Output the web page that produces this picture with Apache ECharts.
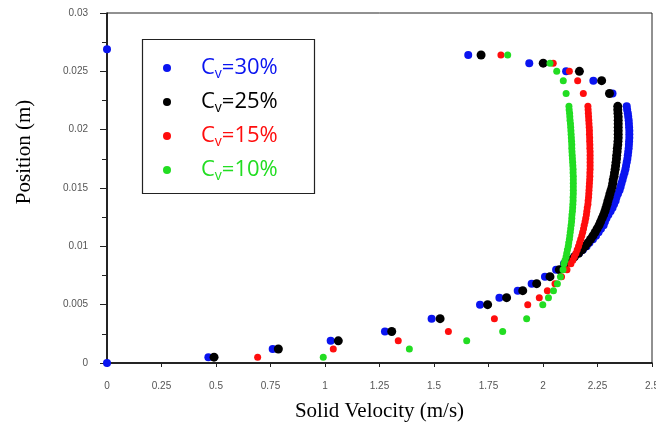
<!DOCTYPE html>
<html>
<head>
<meta charset="utf-8">
<script src="https://cdn.jsdelivr.net/npm/echarts@6/dist/echarts.min.js"></script>
<style>
  html, body { margin: 0; padding: 0; background: #fff; }
  #chart { width: 656px; height: 428px; }
</style>
</head>
<body>
<div id="chart"></div>
<script>
// Cell-centre heights across the channel (m): coarse near the wall, fine in the core
const positionsLower = [0.0005, 0.0012, 0.0019, 0.0027, 0.0038, 0.0050, 0.0056, 0.0062, 0.0068, 0.0074, 0.0080];
const positionsCore = [0.0085, 0.0088, 0.0091, 0.0094, 0.0097, 0.0100, 0.0103, 0.0106, 0.0109, 0.0112,
  0.0115, 0.0118, 0.0121, 0.0124, 0.0127, 0.0130, 0.0133, 0.0136, 0.0139, 0.0142,
  0.0145, 0.0148, 0.0151, 0.0154, 0.0157, 0.0160, 0.0163, 0.0166, 0.0169, 0.0172,
  0.0175, 0.0178, 0.0181, 0.0184, 0.0187, 0.0190, 0.0193, 0.0196, 0.0199, 0.0202,
  0.0205, 0.0208, 0.0211, 0.0214, 0.0217, 0.0220];
const positionsUpper = [0.0231, 0.0242, 0.0250, 0.0257, 0.0264];

// Solid velocity (m/s) at those heights, one list per volume fraction
const velocityCv30 = [0.465, 0.760, 1.026, 1.275, 1.489, 1.711, 1.800, 1.884, 1.948, 2.009, 2.060,
  2.096, 2.122, 2.144, 2.165, 2.183, 2.200, 2.213, 2.229, 2.243, 2.255,
  2.266, 2.278, 2.284, 2.291, 2.300, 2.310, 2.319, 2.326, 2.333, 2.337,
  2.344, 2.351, 2.356, 2.360, 2.365, 2.369, 2.374, 2.378, 2.381, 2.384,
  2.387, 2.389, 2.391, 2.393, 2.394, 2.395, 2.396, 2.396, 2.396, 2.395,
  2.394, 2.393, 2.391, 2.389, 2.386, 2.384,
  2.319, 2.231, 2.106, 1.937, 1.657];
const velocityCv25 = [0.491, 0.786, 1.061, 1.306, 1.528, 1.746, 1.833, 1.907, 1.971, 2.032, 2.075,
  2.101, 2.124, 2.144, 2.163, 2.179, 2.193, 2.206, 2.218, 2.229, 2.239,
  2.248, 2.257, 2.264, 2.271, 2.278, 2.284, 2.289, 2.294, 2.298, 2.303,
  2.307, 2.312, 2.317, 2.320, 2.322, 2.326, 2.328, 2.331, 2.333, 2.335,
  2.337, 2.338, 2.340, 2.341, 2.343, 2.344, 2.345, 2.345, 2.345, 2.345,
  2.345, 2.345, 2.345, 2.344, 2.343, 2.343,
  2.305, 2.269, 2.167, 2.001, 1.716];
const velocityCv15 = [0.691, 1.038, 1.336, 1.566, 1.777, 1.930, 1.983, 2.020, 2.055, 2.085, 2.110,
  2.128, 2.137, 2.144, 2.151, 2.157, 2.163, 2.168, 2.173, 2.178, 2.182,
  2.186, 2.189, 2.193, 2.196, 2.199, 2.201, 2.203, 2.206, 2.207, 2.209,
  2.210, 2.211, 2.212, 2.213, 2.214, 2.215, 2.215, 2.216, 2.216, 2.216,
  2.216, 2.216, 2.216, 2.215, 2.215, 2.214, 2.214, 2.213, 2.213, 2.212,
  2.211, 2.210, 2.209, 2.208, 2.207, 2.206,
  2.185, 2.159, 2.121, 2.047, 1.807];
const velocityCv10 = [0.992, 1.387, 1.650, 1.815, 1.925, 1.999, 2.025, 2.048, 2.066, 2.080, 2.092,
  2.096, 2.101, 2.106, 2.109, 2.112, 2.116, 2.118, 2.121, 2.123, 2.125,
  2.127, 2.129, 2.131, 2.132, 2.133, 2.135, 2.136, 2.137, 2.138, 2.138,
  2.139, 2.139, 2.139, 2.139, 2.139, 2.139, 2.138, 2.138, 2.137, 2.136,
  2.135, 2.134, 2.133, 2.132, 2.132, 2.131, 2.130, 2.129, 2.128, 2.127,
  2.126, 2.124, 2.123, 2.122, 2.120, 2.119,
  2.106, 2.093, 2.063, 2.032, 1.838];

// Wall points of the 30% case (velocity, position)
const wallVelocityCv30 = [0, 0];
const wallPositionCv30 = [0, 0.0269];

const seriesNames = ['Cv=30%', 'Cv=25%', 'Cv=15%', 'Cv=10%'];
const legendValues = ['30%', '25%', '15%', '10%'];
const xTicks = [0, 0.25, 0.5, 0.75, 1, 1.25, 1.5, 1.75, 2, 2.25, 2.5];
const yTicks = [0, 0.005, 0.01, 0.015, 0.02, 0.025, 0.03];

const colors = ['#0a14f0', '#000000', '#ff0d0d', '#22dd22'];
const symbolSizes = [8, 9, 7, 7];

const positions = positionsLower.concat(positionsCore, positionsUpper);
function pairs(xs, ys) { return xs.map((x, i) => [x, ys[i]]); }

const seriesData = [
  pairs(wallVelocityCv30, wallPositionCv30).concat(pairs(velocityCv30, positions)),
  pairs(velocityCv25, positions),
  pairs(velocityCv15, positions),
  pairs(velocityCv10, positions)
];

// Legend text styles: gap spacer, main glyphs and the subscript "v"
const rich = { g: { width: 25, fontSize: 22, lineHeight: 34 } };
colors.forEach((c, i) => {
  rich['m' + i] = { color: c, fontSize: 22, fontFamily: 'Open Sans', lineHeight: 34 };
  rich['s' + i] = { color: c, fontSize: 14, fontFamily: 'Open Sans', lineHeight: 34, padding: [12, 0, 0, 0] };
});

const chart = echarts.init(document.getElementById('chart'), null, { renderer: 'canvas' });
chart.setOption({
  animation: false,
  backgroundColor: '#ffffff',
  grid: {
    left: 107, right: 4, top: 13, bottom: 65,
    show: true, borderColor: '#222', borderWidth: 1,
    containLabel: false, outerBoundsMode: 'none'
  },
  xAxis: {
    type: 'value', min: 0, max: 2.5, interval: 0.25,
    name: 'Solid Velocity (m/s)', nameLocation: 'middle', nameGap: 38,
    nameTextStyle: { fontFamily: 'Liberation Serif', fontSize: 21, color: '#000' },
    axisLine: { onZero: false, lineStyle: { color: '#000', width: 1.5 } },
    axisTick: { show: true, inside: false, length: 4, lineStyle: { color: '#222' } },
    axisLabel: {
      margin: 18, fontFamily: 'Liberation Sans', fontSize: 10, color: '#555',
      formatter: v => { const t = xTicks.find(k => Math.abs(k - v) < 1e-9); return t === undefined ? '' : String(t); }
    },
    splitLine: { show: false }
  },
  yAxis: {
    type: 'value', min: 0, max: 0.03, interval: 0.005,
    axisLine: { onZero: false, lineStyle: { color: '#000', width: 1.5 } },
    axisTick: { show: true, inside: false, length: 7, lineStyle: { color: '#222' } },
    minorTick: { show: true, splitNumber: 2, length: 5, lineStyle: { color: '#222' } },
    axisLabel: {
      margin: 19, fontFamily: 'Liberation Sans', fontSize: 10, color: '#555',
      formatter: v => { const t = yTicks.find(k => Math.abs(k - v) < 1e-9); return t === undefined ? '' : String(t); }
    },
    splitLine: { show: false },
    minorSplitLine: { show: false }
  },
  legend: {
    orient: 'vertical',
    left: 163, top: 55,
    padding: 0, itemGap: 8,
    itemWidth: 8, itemHeight: 8,
    icon: 'circle',
    data: seriesNames,
    formatter: name => {
      const i = seriesNames.indexOf(name);
      return '{g|}{m' + i + '|C}{s' + i + '|v}{m' + i + '|=' + legendValues[i] + '}';
    },
    textStyle: { rich: rich },
    selectedMode: false
  },
  graphic: [
    {
      type: 'rect', z: 10,
      shape: { x: 142.5, y: 39.5, width: 172, height: 154 },
      style: { fill: null, stroke: '#222', lineWidth: 1.2 }
    },
    {
      type: 'text', z: 10,
      x: 24, y: 152, rotation: Math.PI / 2,
      style: {
        text: 'Position (m)', font: '21px "Liberation Serif"', fill: '#000',
        textAlign: 'center', textVerticalAlign: 'middle'
      }
    }
  ],
  series: seriesNames.map((name, i) => ({
    name: name,
    type: 'scatter',
    data: seriesData[i],
    symbol: 'circle',
    symbolSize: symbolSizes[i],
    clip: false,
    itemStyle: { color: colors[i], opacity: 1 },
    emphasis: { disabled: true }
  }))
});
</script>
</body>
</html>
